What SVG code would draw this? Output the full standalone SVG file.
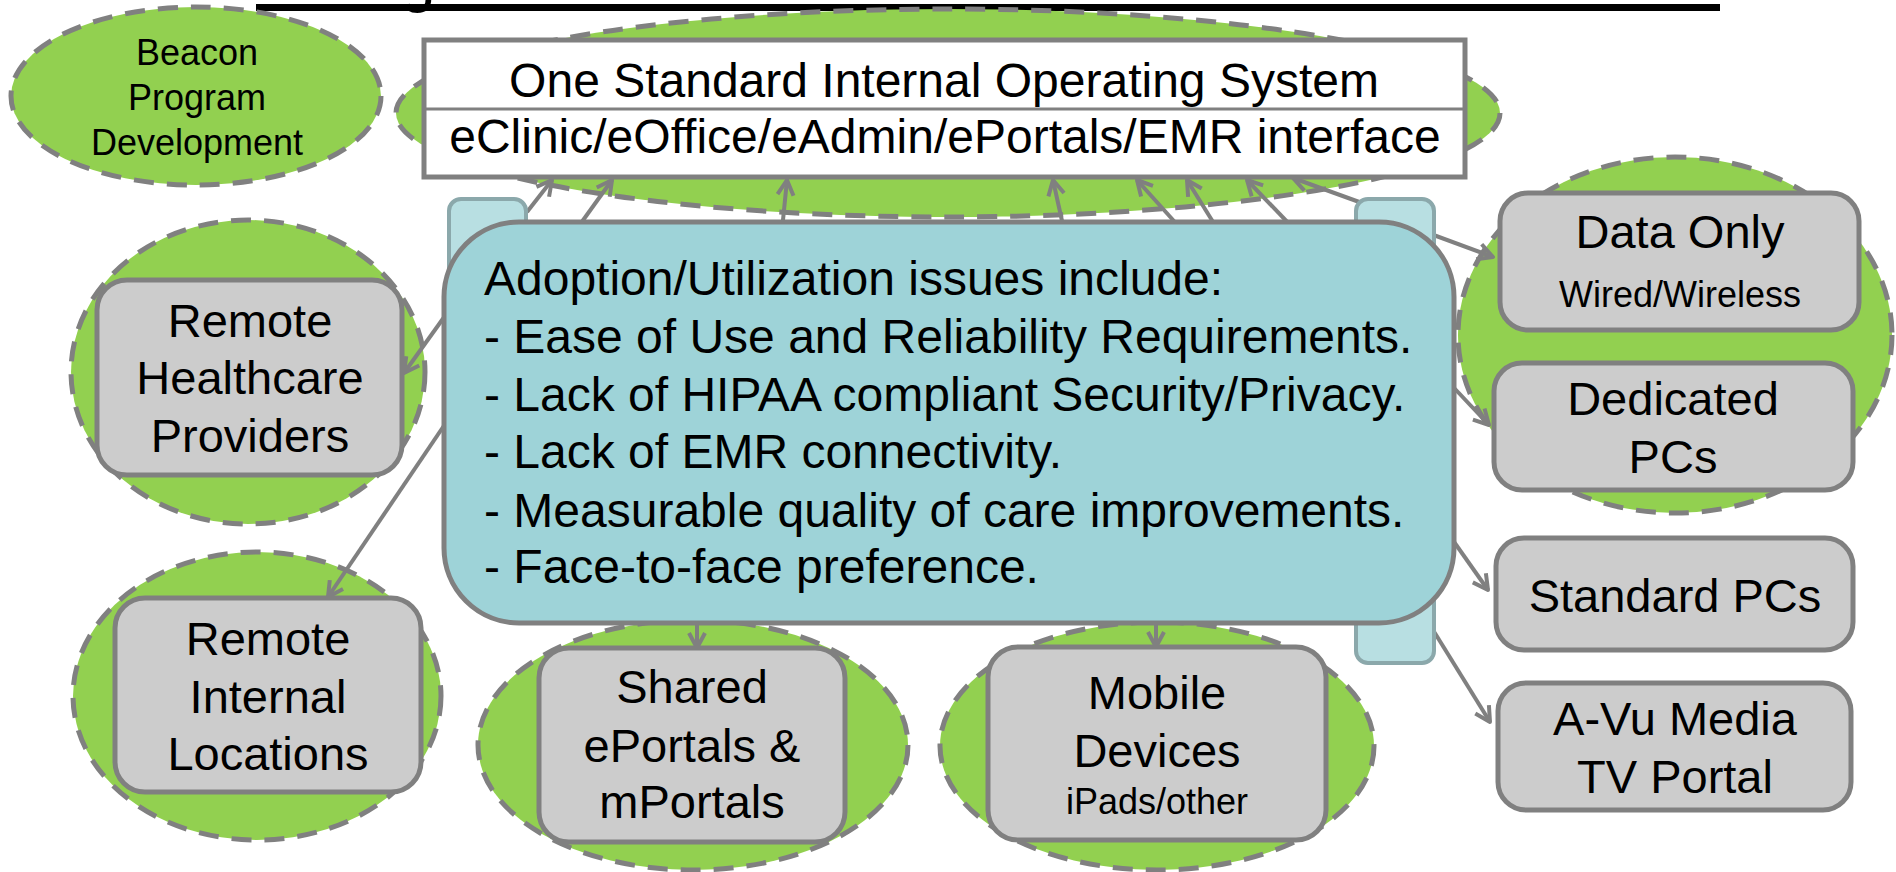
<svg xmlns="http://www.w3.org/2000/svg" width="1896" height="872" viewBox="0 0 1896 872">
<defs>
<style>
.ell{fill:#92D050;stroke:#808080;stroke-width:5;stroke-dasharray:20 13}
.box{fill:#CCCCCC;stroke:#808080;stroke-width:5}
.tab{fill:#B8DFE2;stroke:#8BA8AB;stroke-width:4}
.t{font-family:"Liberation Sans",Arial,sans-serif;fill:#000}
.c{text-anchor:middle}
.L{font-size:47px}
.S{font-size:36px}
.con line{stroke:#808080;stroke-width:4;marker-end:url(#arr)}
</style>
<marker id="arr" markerUnits="userSpaceOnUse" markerWidth="24" markerHeight="24" viewBox="0 0 24 24" refX="20" refY="12" orient="auto">
<path d="M5,4 L20,12 L5,20" fill="none" stroke="#808080" stroke-width="4" stroke-linejoin="round"/>
</marker>
</defs>
<rect width="1896" height="872" fill="#FFFFFF"/>

<g id="title">
<rect x="256" y="4" width="1464" height="7" fill="#000"/>
<text class="t" x="400" y="0" font-size="64">g</text>
</g>

<g id="ellipses">
<ellipse class="ell" cx="948" cy="113" rx="552" ry="104"/>
<ellipse class="ell" cx="248" cy="372" rx="177" ry="152"/>
<ellipse class="ell" cx="257" cy="696" rx="184" ry="144"/>
<ellipse class="ell" cx="693" cy="745" rx="215" ry="125"/>
<ellipse class="ell" cx="1157" cy="746" rx="217" ry="124"/>
<ellipse class="ell" cx="1675" cy="335" rx="217" ry="178"/>
</g>

<g id="beacon">
<ellipse class="ell" cx="196" cy="96" rx="185" ry="89"/>
<text class="t c S" x="197" y="65">Beacon</text>
<text class="t c S" x="197" y="110">Program</text>
<text class="t c S" x="197" y="155">Development</text>
</g>

<g id="connectors" class="con">
<line x1="527" y1="212" x2="552" y2="180"/>
<line x1="576" y1="230" x2="612" y2="180"/>
<line x1="782" y1="230" x2="787" y2="180"/>
<line x1="1064" y1="230" x2="1053" y2="180"/>
<line x1="1182" y1="230" x2="1137" y2="180"/>
<line x1="1218" y1="230" x2="1187" y2="180"/>
<line x1="1295" y1="230" x2="1247" y2="180"/>
<line x1="1362" y1="203" x2="1293" y2="178"/>
<line x1="1420" y1="230" x2="1493" y2="257"/>
<line x1="1440" y1="373" x2="1489" y2="425"/>
<line x1="1440" y1="522" x2="1488" y2="590"/>
<line x1="1420" y1="609" x2="1490" y2="722"/>
<line x1="460" y1="295" x2="404" y2="373"/>
<line x1="460" y1="402" x2="328" y2="597"/>
<line x1="697" y1="610" x2="697" y2="648"/>
<line x1="1156" y1="610" x2="1156" y2="647"/>
</g>

<g id="tabs">
<rect class="tab" x="449" y="199" width="77" height="200" rx="12"/>
<rect class="tab" x="1356" y="199" width="78" height="464" rx="12"/>
</g>

<g id="issues">
<rect x="444" y="222" width="1010" height="401" rx="75" fill="#9ED3D8" stroke="#808080" stroke-width="5"/>
<text class="t" x="484" y="295" font-size="48">Adoption/Utilization issues include:</text>
<text class="t" x="484" y="353" font-size="48">- Ease of Use and Reliability Requirements.</text>
<text class="t" x="484" y="411" font-size="48">- Lack of HIPAA compliant Security/Privacy.</text>
<text class="t" x="484" y="468" font-size="48">- Lack of EMR connectivity.</text>
<text class="t" x="484" y="527" font-size="48">- Measurable quality of care improvements.</text>
<text class="t" x="484" y="583" font-size="48">- Face-to-face preference.</text>
</g>

<g id="os">
<rect x="424" y="40" width="1041" height="137" fill="#FFFFFF" stroke="#808080" stroke-width="5"/>
<line x1="424" y1="109" x2="1465" y2="109" stroke="#808080" stroke-width="3"/>
<text class="t c" x="944" y="97" font-size="48">One Standard Internal Operating System</text>
<text class="t c" x="945" y="153" font-size="48">eClinic/eOffice/eAdmin/ePortals/EMR interface</text>
</g>

<g id="remote-healthcare">
<rect class="box" x="97" y="280" width="305" height="195" rx="30"/>
<text class="t c L" x="250" y="337">Remote</text>
<text class="t c L" x="250" y="394">Healthcare</text>
<text class="t c L" x="250" y="452">Providers</text>
</g>

<g id="remote-internal">
<rect class="box" x="115" y="598" width="306" height="194" rx="30"/>
<text class="t c L" x="268" y="655">Remote</text>
<text class="t c L" x="268" y="713">Internal</text>
<text class="t c L" x="268" y="770">Locations</text>
</g>

<g id="shared">
<rect class="box" x="539" y="648" width="306" height="194" rx="30"/>
<text class="t c L" x="692" y="703">Shared</text>
<text class="t c L" x="692" y="762">ePortals &amp;</text>
<text class="t c L" x="692" y="818">mPortals</text>
</g>

<g id="mobile">
<rect class="box" x="988" y="647" width="338" height="193" rx="30"/>
<text class="t c L" x="1157" y="709">Mobile</text>
<text class="t c L" x="1157" y="767">Devices</text>
<text class="t c S" x="1157" y="814">iPads/other</text>
</g>

<g id="data-only">
<rect class="box" x="1500" y="193" width="359" height="137" rx="28"/>
<text class="t c L" x="1680" y="248">Data Only</text>
<text class="t c S" x="1680" y="307">Wired/Wireless</text>
</g>

<g id="dedicated">
<rect class="box" x="1494" y="363" width="359" height="127" rx="28"/>
<text class="t c L" x="1673" y="415">Dedicated</text>
<text class="t c L" x="1673" y="473">PCs</text>
</g>

<g id="standard">
<rect class="box" x="1496" y="538" width="357" height="112" rx="28"/>
<text class="t c L" x="1675" y="612">Standard PCs</text>
</g>

<g id="avu">
<rect class="box" x="1498" y="683" width="353" height="127" rx="28"/>
<text class="t c L" x="1675" y="735">A-Vu Media</text>
<text class="t c L" x="1675" y="793">TV Portal</text>
</g>
</svg>
